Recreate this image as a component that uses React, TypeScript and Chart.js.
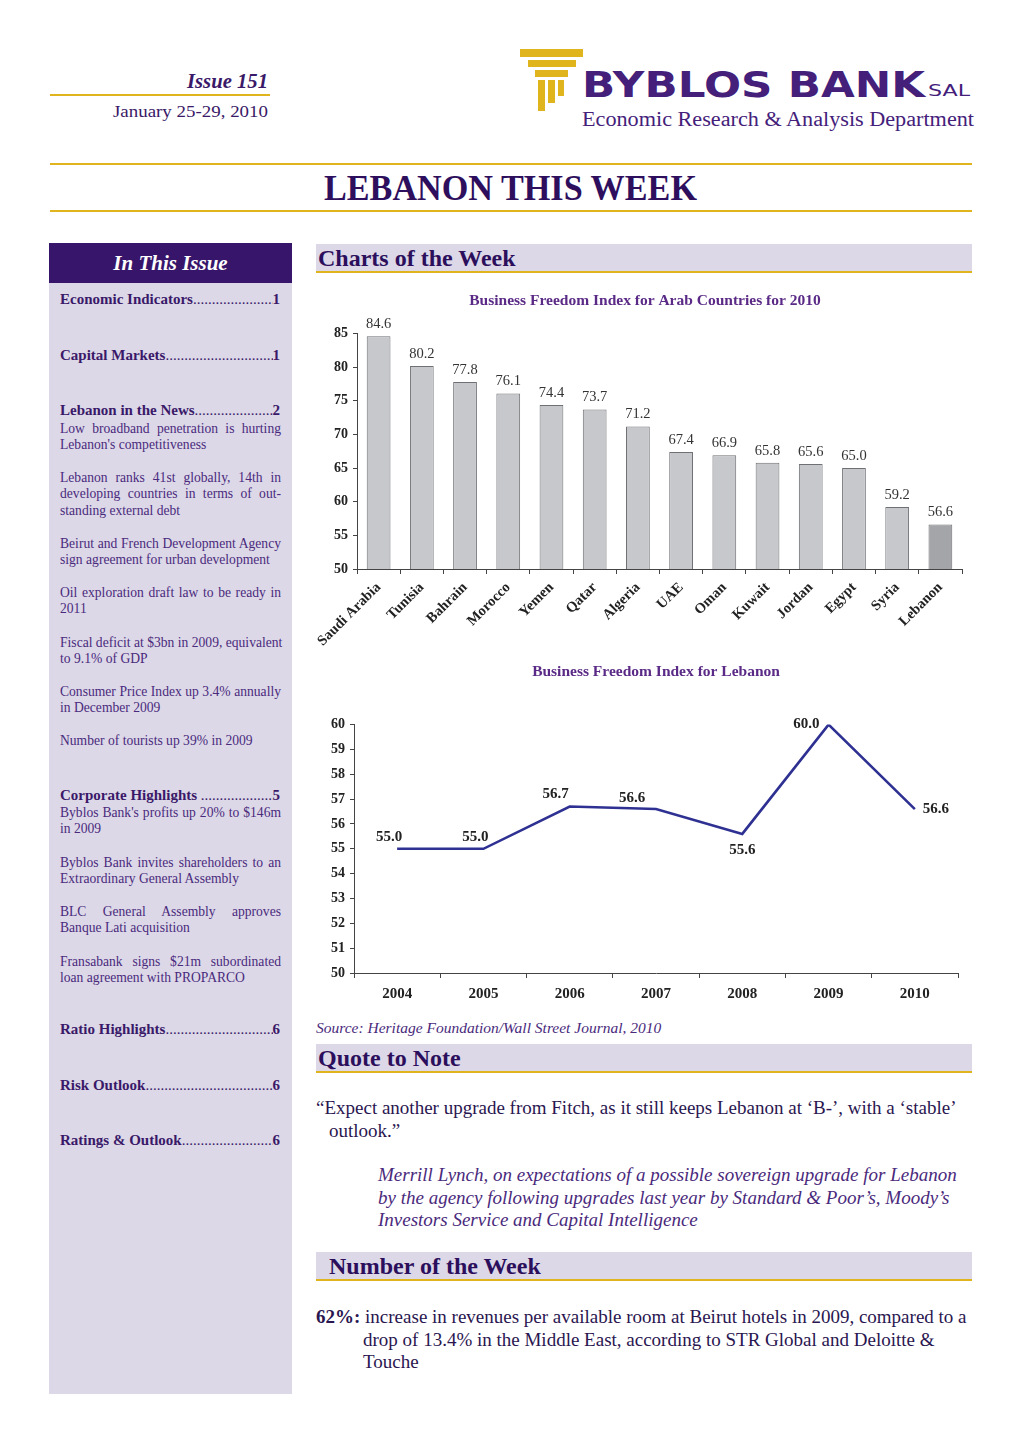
import React, { useEffect, useRef } from "react";
import { Chart, registerables } from "chart.js";

Chart.register(...registerables);

// ---------- data ----------
const countries = [
  "Saudi Arabia", "Tunisia", "Bahrain", "Morocco", "Yemen", "Qatar", "Algeria",
  "UAE", "Oman", "Kuwait", "Jordan", "Egypt", "Syria", "Lebanon",
];
const countryScores = [84.6, 80.2, 77.8, 76.1, 74.4, 73.7, 71.2, 67.4, 66.9, 65.8, 65.6, 65.0, 59.2, 56.6];
const years = ["2004", "2005", "2006", "2007", "2008", "2009", "2010"];
const lebanonScores = [55.0, 55.0, 56.7, 56.6, 55.6, 60.0, 56.6];
const barAxisMin = 50;
const barAxisMax = 85;
const barAxisStep = 5;
const lineAxisMin = 50;
const lineAxisMax = 60;
const lineAxisStep = 1;
const lineLabelPlacement = ["above", "above", "aboveLeft", "aboveFarLeft", "below", "left", "right"];

const barTitle = "Business Freedom Index for Arab Countries for 2010";
const lineTitle = "Business Freedom Index for Lebanon";

// ---------- styles ----------
const SERIF = "'Liberation Serif', 'Times New Roman', serif";
const PURPLE = "#3a1968";
const PURPLE_TEXT = "#4a2a7c";
const TITLE_PURPLE = "#5a2a86";
const GOLD = "#e0b41c";
const LAVENDER = "#dcd8e8";

const valueLabelPlugin = {
  id: "valueLabels",
  afterDatasetsDraw(chart: any, _args: any, opts: any) {
    const ctx = chart.ctx;
    const meta = chart.getDatasetMeta(0);
    const data = chart.data.datasets[0].data as number[];
    ctx.save();
    ctx.font = opts.font;
    ctx.fillStyle = opts.color;
    meta.data.forEach((el: any, i: number) => {
      const text = Number(data[i]).toFixed(1);
      const place = opts.placement ? opts.placement[i] : "above";
      let x = el.x;
      let y = el.y;
      ctx.textBaseline = "middle";
      ctx.textAlign = "center";
      if (place === "above") {
        x += opts.aboveDx || 0;
        y -= opts.aboveDy;
      } else if (place === "aboveLeft") {
        x -= 14;
        y -= 12;
      } else if (place === "aboveFarLeft") {
        x -= 24;
        y -= 11;
      } else if (place === "below") {
        y += 16;
      } else if (place === "left") {
        ctx.textAlign = "right";
        x -= 9;
      } else if (place === "right") {
        ctx.textAlign = "left";
        x += 8;
      }
      ctx.fillText(text, x, y);
    });
    ctx.restore();
  },
};

function BarChart() {
  const ref = useRef<HTMLCanvasElement | null>(null);
  useEffect(() => {
    if (!ref.current) return;
    const chart = new Chart(ref.current, {
      type: "bar",
      data: {
        labels: countries,
        datasets: [
          {
            data: countryScores,
            backgroundColor: countries.map((c) => (c === "Lebanon" ? "#a4a5a9" : "#c7c8cc")),
            borderColor: "#6f7074",
            borderWidth: 1,
            barPercentage: 0.55,
            categoryPercentage: 1,
          },
        ],
      },
      options: {
        responsive: false,
        animation: false,
        events: [],
        layout: { padding: { left: 28, right: 18, top: 0, bottom: 0 } },
        plugins: {
          legend: { display: false },
          tooltip: { enabled: false },
          title: {
            display: true,
            text: barTitle,
            color: TITLE_PURPLE,
            font: { family: SERIF, size: 15.5, weight: "bold" },
            padding: { top: 4, bottom: 23 },
          },
          valueLabels: {
            font: `14.5px ${SERIF}`,
            color: "#333",
            aboveDy: 12,
          },
        } as any,
        scales: {
          x: {
            grid: { display: true, drawOnChartArea: false, drawTicks: true, tickLength: 5, color: "#444", offset: true },
            border: { display: true, color: "#444", width: 1 },
            ticks: {
              autoSkip: false,
              minRotation: 45,
              maxRotation: 45,
              padding: 5,
              color: "#222",
              font: { family: SERIF, size: 14.5, weight: "bold" },
            },
            afterFit: (s: any) => {
              s.height = 91;
            },
          },
          y: {
            min: barAxisMin,
            max: barAxisMax,
            grid: { display: true, drawOnChartArea: false, drawTicks: true, tickLength: 4, color: "#444" },
            border: { display: true, color: "#444", width: 1 },
            ticks: {
              stepSize: barAxisStep,
              padding: 5,
              color: "#222",
              font: { family: SERIF, size: 14, weight: "bold" },
            },
            afterFit: (s: any) => {
              s.width = 29;
            },
          },
        },
      },
      plugins: [valueLabelPlugin],
    });
    return () => chart.destroy();
  }, []);
  return <canvas ref={ref} width={680} height={372} style={{ position: "absolute", left: 300, top: 288 }} />;
}

function LineChart() {
  const ref = useRef<HTMLCanvasElement | null>(null);
  useEffect(() => {
    if (!ref.current) return;
    const chart = new Chart(ref.current, {
      type: "line",
      data: {
        labels: years,
        datasets: [
          {
            data: lebanonScores,
            borderColor: "#2e3192",
            borderWidth: 2.6,
            pointRadius: 0,
            tension: 0,
            fill: false,
          },
        ],
      },
      options: {
        responsive: false,
        animation: false,
        events: [],
        layout: { padding: { left: 0, right: 22, top: 0, bottom: 0 } },
        plugins: {
          legend: { display: false },
          tooltip: { enabled: false },
          title: {
            display: true,
            fullSize: false,
            text: lineTitle,
            color: TITLE_PURPLE,
            font: { family: SERIF, size: 15.5, weight: "bold" },
            padding: { top: 3, bottom: 43 },
          },
          valueLabels: {
            font: `bold 15px ${SERIF}`,
            color: "#222",
            placement: lineLabelPlacement,
            aboveDx: -8,
            aboveDy: 12,
          },
        } as any,
        scales: {
          x: {
            offset: true,
            grid: { display: true, drawOnChartArea: false, drawTicks: true, tickLength: 5, color: "#444", offset: true },
            border: { display: true, color: "#444", width: 1 },
            ticks: {
              padding: 7,
              color: "#222",
              font: { family: SERIF, size: 15, weight: "bold" },
            },
            afterFit: (s: any) => {
              s.height = 32;
            },
          },
          y: {
            min: lineAxisMin,
            max: lineAxisMax,
            grid: { display: true, drawOnChartArea: false, drawTicks: true, tickLength: 4, color: "#444" },
            border: { display: true, color: "#444", width: 1 },
            ticks: {
              stepSize: lineAxisStep,
              padding: 5,
              color: "#222",
              font: { family: SERIF, size: 14, weight: "bold" },
            },
            afterFit: (s: any) => {
              s.width = 54;
            },
          },
        },
      },
      plugins: [valueLabelPlugin],
    });
    return () => chart.destroy();
  }, []);
  return <canvas ref={ref} width={680} height={345} style={{ position: "absolute", left: 300, top: 660 }} />;
}

// ---------- sidebar ----------
type SideItem = { kind: "head"; text: string; page: string; y: number } | { kind: "para"; lines: string[]; y: number };
const sidebarItems: SideItem[] = [
  { kind: "head", text: "Economic Indicators", page: "1", y: 300 },
  { kind: "head", text: "Capital Markets", page: "1", y: 356 },
  { kind: "head", text: "Lebanon in the News", page: "2", y: 411 },
  { kind: "para", lines: ["Low broadband penetration is hurting", "Lebanon's competitiveness"], y: 429 },
  { kind: "para", lines: ["Lebanon ranks 41st globally, 14th in", "developing countries in terms of out-", "standing external debt"], y: 478 },
  { kind: "para", lines: ["Beirut and French Development Agency", "sign agreement for urban development"], y: 544 },
  { kind: "para", lines: ["Oil exploration draft law to be ready in", "2011"], y: 593 },
  { kind: "para", lines: ["Fiscal deficit at $3bn in 2009, equivalent", "to 9.1% of GDP"], y: 643 },
  { kind: "para", lines: ["Consumer Price Index up 3.4% annually", "in December 2009"], y: 692 },
  { kind: "para", lines: ["Number of tourists up 39% in 2009"], y: 741 },
  { kind: "head", text: "Corporate Highlights ", page: "5", y: 796 },
  { kind: "para", lines: ["Byblos Bank's profits up 20% to $146m", "in 2009"], y: 813 },
  { kind: "para", lines: ["Byblos Bank invites shareholders to an", "Extraordinary General Assembly"], y: 863 },
  { kind: "para", lines: ["BLC General Assembly approves", "Banque Lati acquisition"], y: 912 },
  { kind: "para", lines: ["Fransabank signs $21m subordinated", "loan agreement with PROPARCO"], y: 962 },
  { kind: "head", text: "Ratio Highlights", page: "6", y: 1030 },
  { kind: "head", text: "Risk Outlook", page: "6", y: 1086 },
  { kind: "head", text: "Ratings & Outlook", page: "6", y: 1141 },
];

function Sidebar() {
  return (
    <>
      <div style={{ position: "absolute", left: 49, top: 243, width: 243, height: 1151, background: LAVENDER }} />
      <div
        style={{
          position: "absolute", left: 49, top: 243, width: 243, height: 40, background: "#36156a",
          color: "#fff", fontStyle: "italic", fontWeight: "bold", fontSize: 21, lineHeight: "40px", textAlign: "center",
        }}
      >
        In This Issue
      </div>
      {sidebarItems.map((it, idx) =>
        it.kind === "head" ? (
          <div
            key={idx}
            style={{
              position: "absolute", left: 60, top: it.y - 10, width: 220, display: "flex", fontSize: 15,
              lineHeight: "18px", color: PURPLE, whiteSpace: "nowrap",
            }}
          >
            <span style={{ fontWeight: "bold", whiteSpace: "pre" }}>{it.text}</span>
            <span style={{ flex: 1, overflow: "hidden" }}>{".".repeat(80)}</span>
            <span style={{ fontWeight: "bold" }}>{it.page}</span>
          </div>
        ) : (
          <div key={idx} style={{ position: "absolute", left: 60, top: it.y - 8.5, width: 221, fontSize: 13.6, lineHeight: "16.5px", color: PURPLE_TEXT }}>
            {it.lines.map((ln, j) => {
              const justify = j !== it.lines.length - 1;
              return (
                <div key={j} style={{ whiteSpace: "nowrap", textAlign: justify ? "justify" : "left", textAlignLast: justify ? "justify" : "left" } as any}>
                  {ln}
                </div>
              );
            })}
          </div>
        )
      )}
    </>
  );
}

function SectionHead({ text, top, indent }: { text: string; top: number; indent: number }) {
  return (
    <div
      style={{
        position: "absolute", left: 316, top, width: 656, height: 29, background: LAVENDER,
        borderBottom: `2px solid ${GOLD}`, color: "#2c0f5c", fontWeight: "bold", fontSize: 24,
        lineHeight: "28px", paddingLeft: indent, boxSizing: "border-box", whiteSpace: "nowrap",
      }}
    >
      {text}
    </div>
  );
}

export default function App() {
  return (
    <div style={{ position: "absolute", left: 0, top: 0, width: 1020, height: 1443, background: "#fff", fontFamily: SERIF, overflow: "hidden" }}>
      <svg width={1020} height={220} style={{ position: "absolute", left: 0, top: 0 }}>
        <text x={187} y={88} fontFamily={SERIF} fontStyle="italic" fontWeight="bold" fontSize={20} fill={PURPLE} textLength={81} lengthAdjust="spacingAndGlyphs">Issue 151</text>
        <rect x={50} y={94} width={220} height={2} fill={GOLD} />
        <text x={113} y={117} fontFamily={SERIF} fontSize={17} fill={PURPLE} textLength={155} lengthAdjust="spacingAndGlyphs">January 25-29, 2010</text>
        <rect x={520} y={49} width={63} height={8} fill={GOLD} />
        <rect x={528} y={60} width={48} height={7} fill={GOLD} />
        <rect x={535} y={70} width={33} height={7} fill={GOLD} />
        <rect x={538} y={80} width={7} height={31} fill={GOLD} />
        <rect x={548} y={80} width={7} height={23} fill={GOLD} />
        <rect x={558} y={80} width={6} height={16} fill={GOLD} />
        <text x={582} y={97} fontFamily="'DejaVu Sans', sans-serif" fontWeight="bold" fontSize={35} fill="#44207a" textLength={343} lengthAdjust="spacingAndGlyphs">BYBLOS BANK</text>
        <text x={928} y={96} fontFamily="'DejaVu Sans', sans-serif" fontSize={16} fill="#44207a" textLength={42} lengthAdjust="spacingAndGlyphs">SAL</text>
        <text x={582} y={126} fontFamily={SERIF} fontSize={20} fill="#44207a" textLength={392} lengthAdjust="spacingAndGlyphs">Economic Research &amp; Analysis Department</text>
        <rect x={50} y={163} width={922} height={2} fill={GOLD} />
        <text x={324} y={200} fontFamily={SERIF} fontWeight="bold" fontSize={36} fill="#2e0f5e" textLength={373} lengthAdjust="spacingAndGlyphs">LEBANON THIS WEEK</text>
        <rect x={50} y={210} width={922} height={2} fill={GOLD} />
      </svg>

      <Sidebar />

      <SectionHead text="Charts of the Week" top={244} indent={2} />
      <BarChart />
      <LineChart />
      <div style={{ position: "absolute", left: 316, top: 1019, fontSize: 15.5, fontStyle: "italic", color: PURPLE_TEXT, whiteSpace: "nowrap", lineHeight: "18px" }}>
        Source: Heritage Foundation/Wall Street Journal, 2010
      </div>

      <SectionHead text="Quote to Note" top={1044} indent={2} />
      <div style={{ position: "absolute", left: 316, top: 1096, fontSize: 19, lineHeight: "23px", color: "#2a1650", whiteSpace: "nowrap" }}>
        <div>“Expect another upgrade from Fitch, as it still keeps Lebanon at ‘B-’, with a ‘stable’</div>
        <div style={{ paddingLeft: 13 }}>outlook.”</div>
      </div>
      <div style={{ position: "absolute", left: 378, top: 1164, fontSize: 19, lineHeight: "22.5px", fontStyle: "italic", color: PURPLE_TEXT, whiteSpace: "nowrap" }}>
        <div>Merrill Lynch, on expectations of a possible sovereign upgrade for Lebanon</div>
        <div>by the agency following upgrades last year by Standard &amp; Poor’s, Moody’s</div>
        <div>Investors Service and Capital Intelligence</div>
      </div>

      <SectionHead text="Number of the Week" top={1252} indent={13} />
      <div style={{ position: "absolute", left: 316, top: 1306, fontSize: 19, lineHeight: "22.5px", color: "#2a1650", whiteSpace: "nowrap" }}>
        <div>
          <b>62%:</b> increase in revenues per available room at Beirut hotels in 2009, compared to a
        </div>
        <div style={{ paddingLeft: 47 }}>drop of 13.4% in the Middle East, according to STR Global and Deloitte &amp;</div>
        <div style={{ paddingLeft: 47 }}>Touche</div>
      </div>
    </div>
  );
}
